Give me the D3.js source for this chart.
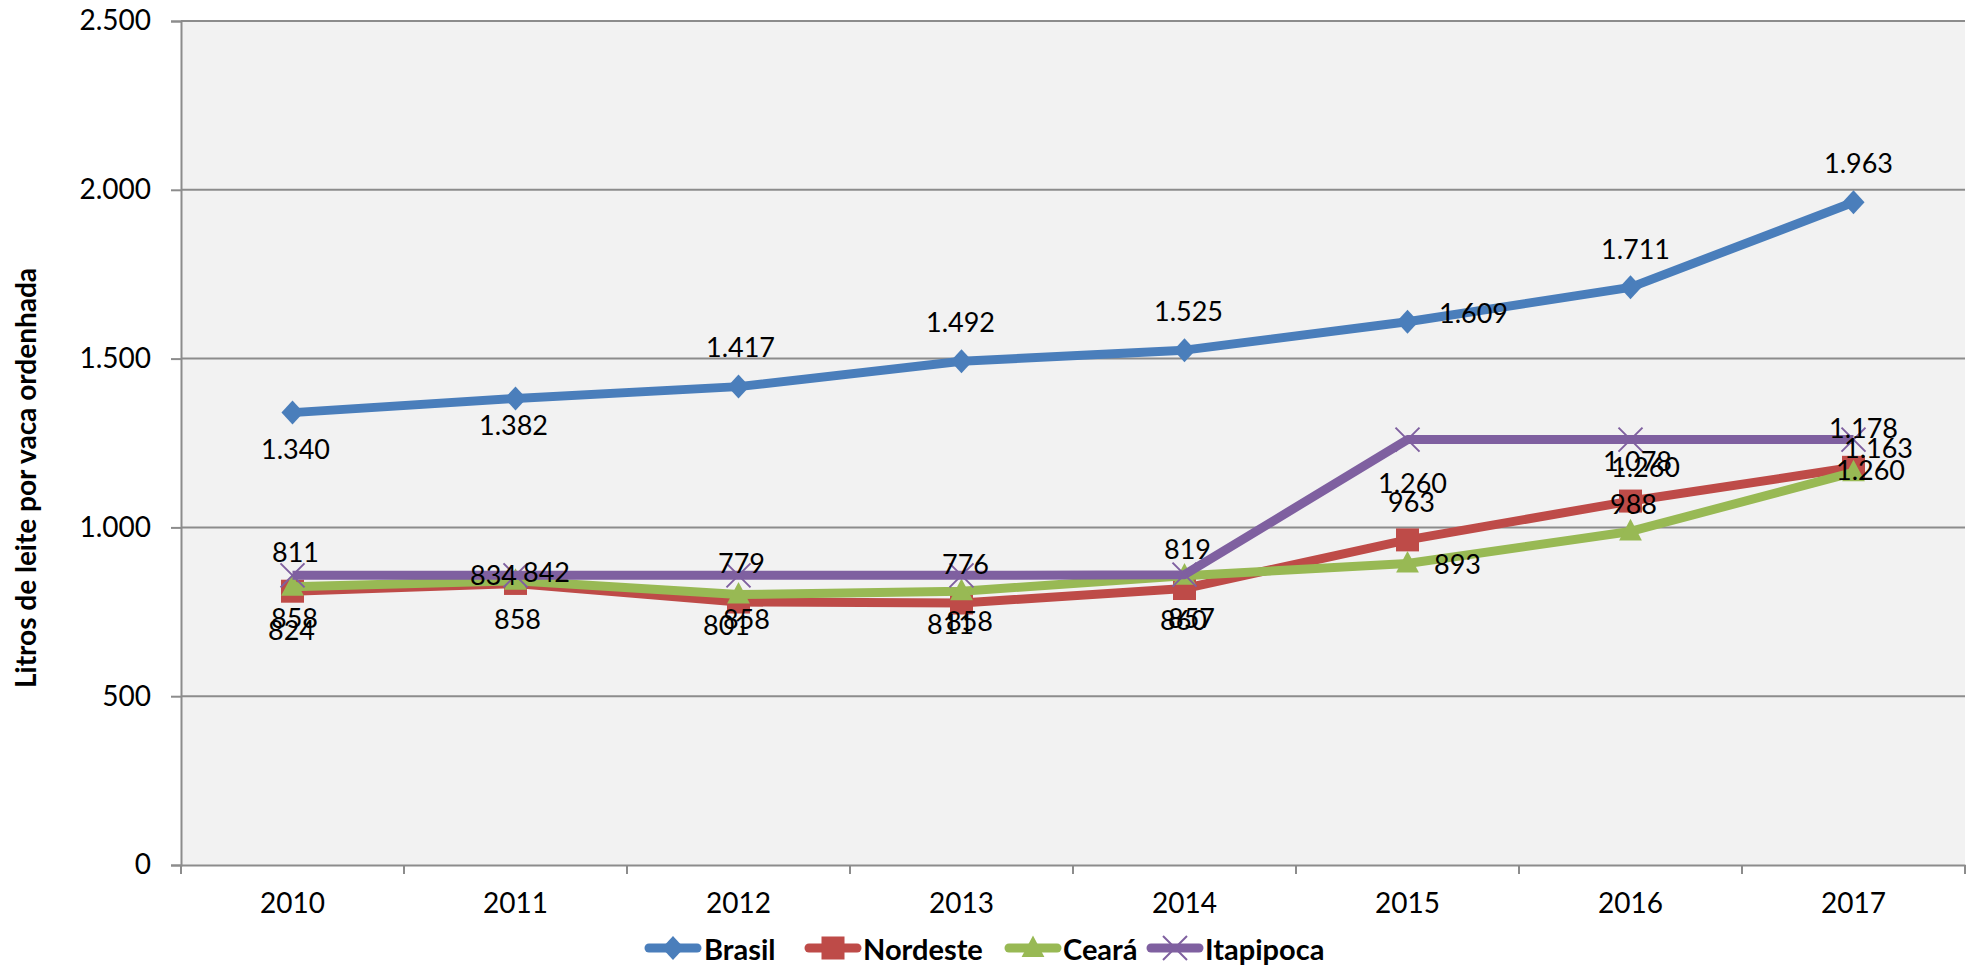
<!DOCTYPE html>
<html>
<head>
<meta charset="utf-8">
<script src="https://cdn.jsdelivr.net/npm/d3@7/dist/d3.min.js"></script>
<style>
  html, body { margin: 0; padding: 0; background: #ffffff; }
  svg { display: block; }
  text { font-family: Lato, "Open Sans", sans-serif; fill: #000; }
</style>
</head>
<body>
<svg id="chart" width="1972" height="968"></svg>
<script>
// ---- data ----
const years = ["2010", "2011", "2012", "2013", "2014", "2015", "2016", "2017"];
const brasil    = [1340, 1382, 1417, 1492, 1525, 1609, 1711, 1963];
const nordeste  = [811, 834, 779, 776, 819, 963, 1078, 1178];
const ceara     = [824, 842, 801, 811, 857, 893, 988, 1163];
const itapipoca = [858, 858, 858, 858, 860, 1260, 1260, 1260];
const yTicks    = [0, 500, 1000, 1500, 2000, 2500];
const seriesNames = ["Brasil", "Nordeste", "Ceará", "Itapipoca"];
const yTitle = "Litros de leite por vaca ordenhada";

// ---- styling / label placement (not data) ----
const colors = ["#4A7EBB", "#BE4B48", "#98B954", "#7F60A0"];
const markers = ["diamond", "square", "triangle", "x"];
const labelOffsets = [
  [[3,36],[-2,26],[2,-40],[-1,-40],[4,-40],[66,-9],[5,-39],[5,-40]],
  [[3,-40],[-22,-9],[3,-40],[4,-40],[3,-40],[4,-38],[7,-41],[10,-40]],
  [[-1,43],[31,-9],[-12,30],[-11,32],[7,42],[50,0],[3,-28],[25,-25]],
  [[2,42],[2,43],[8,43],[8,45],[-1,45],[5,43],[15,27],[17,30]]
];

const seriesValues = [brasil, nordeste, ceara, itapipoca];
const series = seriesNames.map((name, i) => ({
  name, color: colors[i], marker: markers[i], offsets: labelOffsets[i],
  values: years.map((y, j) => ({ year: y, value: seriesValues[i][j] }))
}));

const svg = d3.select("#chart");
const plot = { left: 181, right: 1965, top: 21, bottom: 865 };

const x = d3.scaleBand().domain(years).range([plot.left, plot.right]).padding(0);
const y = d3.scaleLinear().domain([0, 2500]).range([plot.bottom, plot.top]);
const cx = d => x(d.year) + x.bandwidth() / 2;

const locale = d3.formatLocale({ decimal: ",", thousands: ".", grouping: [3], currency: ["", ""] });
const fmt = locale.format(",d");

// plot background
svg.append("rect")
  .attr("x", plot.left).attr("y", plot.top)
  .attr("width", plot.right - plot.left).attr("height", plot.bottom - plot.top)
  .attr("fill", "#F2F2F2");

// gridlines
const gridColor = "#8C8C8C";
svg.append("g").selectAll("line").data(yTicks.filter(t => t > 0)).join("line")
  .attr("x1", plot.left).attr("x2", plot.right)
  .attr("y1", d => y(d)).attr("y2", d => y(d))
  .attr("stroke", gridColor).attr("stroke-width", 2);

// y axis
const yAxis = svg.append("g").attr("transform", `translate(${plot.left},0)`)
  .call(d3.axisLeft(y).tickValues(yTicks).tickFormat(fmt).tickSize(10).tickPadding(20));
yAxis.select(".domain").attr("stroke", gridColor).attr("stroke-width", 2);
yAxis.selectAll(".tick line").attr("stroke", gridColor).attr("stroke-width", 2);
yAxis.selectAll(".tick text").style("font-size", "28px").style("font-family", "Lato, sans-serif").attr("fill", "#000");

// x axis
const xAxis = svg.append("g").attr("transform", `translate(0,${plot.bottom})`)
  .call(d3.axisBottom(x).tickSize(0).tickPadding(28));
xAxis.select(".domain").attr("stroke", gridColor).attr("stroke-width", 2);
xAxis.selectAll(".tick text").style("font-size", "28px").style("font-family", "Lato, sans-serif").attr("fill", "#000");
// boundary ticks
const edges = years.map(c => x(c)).concat([x(years[years.length - 1]) + x.bandwidth()]);
svg.append("g").selectAll("line").data(edges).join("line")
  .attr("x1", d => d).attr("x2", d => d)
  .attr("y1", plot.bottom).attr("y2", plot.bottom + 9)
  .attr("stroke", gridColor).attr("stroke-width", 2);

// y title
svg.append("text")
  .attr("transform", `translate(25,478) rotate(-90)`)
  .attr("text-anchor", "middle").attr("dominant-baseline", "central")
  .style("font-size", "28px").style("font-weight", "700")
  .text(yTitle);

// marker drawer
function drawMarker(g, type, color, px, py, scale) {
  const s = scale || 1;
  if (type === "diamond") {
    const h = 12 * s;
    g.append("path").attr("d", `M${px},${py - h}L${px + h * 0.92},${py}L${px},${py + h}L${px - h * 0.92},${py}Z`).attr("fill", color);
  } else if (type === "square") {
    const h = 11.5 * s;
    g.append("rect").attr("x", px - h).attr("y", py - h).attr("width", 2 * h).attr("height", 2 * h).attr("fill", color);
  } else if (type === "triangle") {
    const h = 12 * s;
    g.append("path").attr("d", `M${px},${py - h * 1.05}L${px + h * 0.95},${py + h * 0.75}L${px - h * 0.95},${py + h * 0.75}Z`).attr("fill", color);
  } else if (type === "x") {
    const h = 12 * s;
    g.append("path").attr("d", `M${px - h},${py - h}L${px + h},${py + h}M${px + h},${py - h}L${px - h},${py + h}`)
      .attr("stroke", color).attr("stroke-width", 2).attr("fill", "none");
  }
}

// lines + markers
const line = d3.line().x(cx).y(d => y(d.value));
series.forEach(s => {
  const g = svg.append("g");
  g.append("path").datum(s.values).attr("d", line)
    .attr("fill", "none").attr("stroke", s.color).attr("stroke-width", 9)
    .attr("stroke-linejoin", "round");
  s.values.forEach(d => drawMarker(g, s.marker, s.color, cx(d), y(d.value)));
});

// data labels
const lg = svg.append("g");
series.forEach(s => {
  s.values.forEach((d, j) => {
    lg.append("text")
      .attr("x", cx(d) + s.offsets[j][0]).attr("y", y(d.value) + s.offsets[j][1])
      .attr("text-anchor", "middle").attr("dominant-baseline", "central")
      .style("font-size", "27px")
      .text(fmt(d.value));
  });
});

// legend
const legendItems = [
  { x: 645, tx: 704 }, { x: 805, tx: 863 }, { x: 1005, tx: 1063 }, { x: 1147, tx: 1205 }
];
const legY = 948;
series.forEach((s, i) => {
  const g = svg.append("g");
  const lx = legendItems[i].x;
  g.append("line").attr("x1", lx + 4).attr("x2", lx + 52).attr("y1", legY).attr("y2", legY)
    .attr("stroke", s.color).attr("stroke-width", 9).attr("stroke-linecap", "round");
  drawMarker(g, s.marker, s.color, lx + 28, legY, 1);
  g.append("text").attr("x", legendItems[i].tx).attr("y", legY)
    .attr("dominant-baseline", "central")
    .style("font-size", "29px").style("font-weight", "700")
    .text(s.name);
});
</script>
</body>
</html>
